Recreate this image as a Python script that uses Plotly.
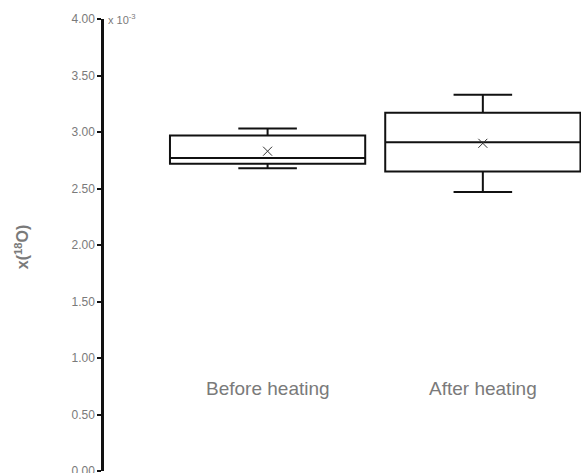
import plotly.graph_objects as go

# Isotope amount fraction x(18O), in units of 10^-3
categories = ["Before heating", "After heating"]
lower_whisker = [2.68, 2.47]
q1 = [2.72, 2.65]
median = [2.77, 2.91]
q3 = [2.97, 3.17]
upper_whisker = [3.03, 3.33]
mean = [2.83, 2.90]

y_ticks = [0.0, 0.5, 1.0, 1.5, 2.0, 2.5, 3.0, 3.5, 4.0]

FONT = "Liberation Sans, Arial, Helvetica, sans-serif"
GREY = "#7a7a7a"

fig = go.Figure()

fig.add_trace(go.Box(
    x=categories,
    q1=q1,
    median=median,
    q3=q3,
    lowerfence=lower_whisker,
    upperfence=upper_whisker,
    boxpoints=False,
    width=0.907,
    whiskerwidth=0.3,
    fillcolor="white",
    line=dict(color="#111111", width=2),
    showlegend=False,
    hoverinfo="skip",
))

fig.add_trace(go.Scatter(
    x=categories,
    y=mean,
    mode="markers",
    marker=dict(symbol="x-thin-open", size=9, color="#333333",
                line=dict(color="#333333", width=1)),
    showlegend=False,
    hoverinfo="skip",
))

# Category names drawn inside the plotting area
for cat in categories:
    fig.add_annotation(
        x=cat, y=0.73, xref="x", yref="y",
        text=cat, showarrow=False,
        font=dict(family=FONT, size=19, color=GREY),
        xanchor="center", yanchor="middle",
    )

# Axis multiplier
fig.add_annotation(
    x=0.005, y=1.0, xref="paper", yref="paper",
    text="x 10<sup>-3</sup>", showarrow=False,
    font=dict(family=FONT, size=11, color=GREY),
    xanchor="left", yanchor="middle",
)

# Y-axis title
fig.add_annotation(
    x=-0.172, y=0.495, xref="paper", yref="paper",
    text="<b>x(<sup>18</sup>O)</b>", showarrow=False, textangle=-90,
    font=dict(family=FONT, size=16, color=GREY),
    xanchor="center", yanchor="middle",
)

fig.update_layout(
    width=581, height=473,
    margin=dict(l=104, r=0, t=19, b=2),
    paper_bgcolor="white",
    plot_bgcolor="white",
    font=dict(family=FONT, color=GREY),
)

fig.update_xaxes(
    type="category",
    range=[-0.760, 1.456],
    showline=False, showticklabels=False, ticks="",
    showgrid=False, zeroline=False, automargin=False,
)

fig.update_yaxes(
    range=[0, 4],
    tickvals=y_ticks,
    tickformat=".2f",
    ticklabeloverflow="allow",
    automargin=False,
    showline=True, linecolor="#111111", linewidth=2.5,
    ticks="outside", ticklen=4, tickwidth=2, tickcolor="#111111",
    tickfont=dict(family=FONT, size=12, color=GREY),
    showgrid=False, zeroline=False,
)

fig.write_html("out.html")
